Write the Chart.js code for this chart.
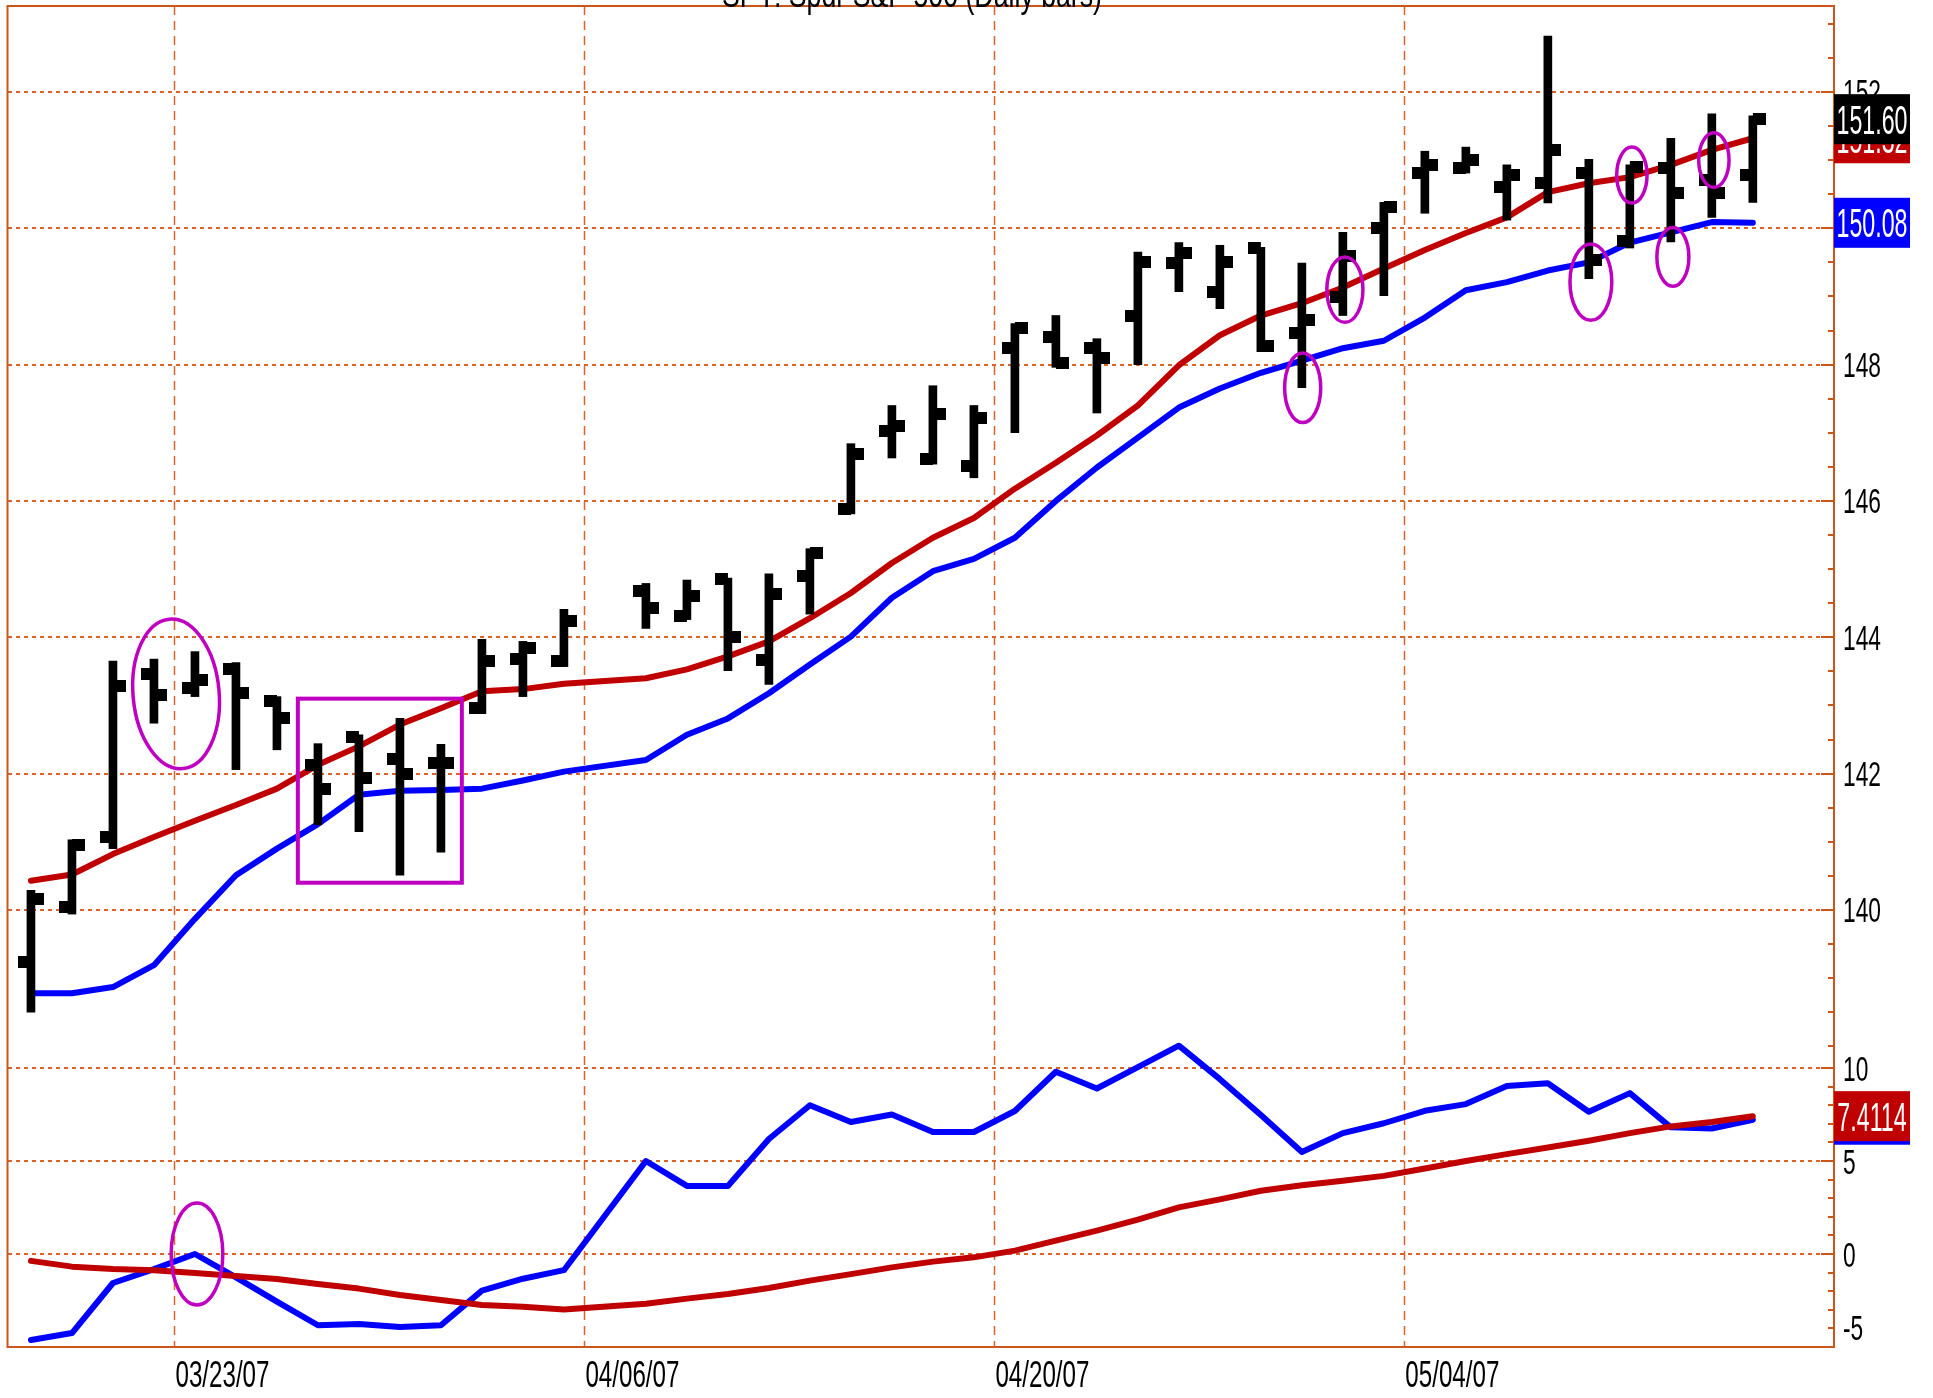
<!DOCTYPE html>
<html><head><meta charset="utf-8">
<script src="https://cdn.jsdelivr.net/npm/chart.js@4.4.1/dist/chart.umd.min.js"></script>
<style>html,body{margin:0;padding:0;background:#fff;overflow:hidden}</style>
</head><body>
<canvas id="c" width="1933" height="1398" style="width:1933px;height:1398px;display:block"></canvas>
<script>
// ---------- DATA ----------
const title = 'SPY: Spdr S&P 500 (Daily bars)';
const dates = ['03/19/07','03/20/07','03/21/07','03/22/07','03/23/07','03/26/07','03/27/07','03/28/07','03/29/07','03/30/07',
  '04/02/07','04/03/07','04/04/07','04/05/07','04/06/07','04/09/07','04/10/07','04/11/07','04/12/07','04/13/07',
  '04/16/07','04/17/07','04/18/07','04/19/07','04/20/07','04/23/07','04/24/07','04/25/07','04/26/07','04/27/07',
  '04/30/07','05/01/07','05/02/07','05/03/07','05/04/07','05/07/07','05/08/07','05/09/07','05/10/07','05/11/07',
  '05/14/07','05/15/07','05/16/07'];
const dateTickLabels = ['03/23/07','04/06/07','04/20/07','05/04/07'];
const priceTickLabels = [140,142,144,146,148,150,152];
const oscTickLabels = [-5,0,5,10];

const opens  = [139.24,140.04,141.07,143.46,143.26,143.54,143.06,142.13,142.54,142.22,142.15,142.96,143.68,143.65,null,
  144.68,144.31,144.85,143.66,144.90,145.88,147.03,146.62,146.51,148.24,148.40,148.24,148.72,149.49,149.07,149.71,
  148.46,148.99,150.01,150.81,150.88,150.60,150.66,150.81,149.82,150.88,150.71,150.78];
const highs  = [140.29,141.03,143.65,143.68,143.79,143.63,143.13,142.44,142.57,142.81,142.43,143.97,143.94,144.41,null,
  144.79,144.84,144.87,144.93,145.30,146.84,147.40,147.69,147.40,148.60,148.72,148.38,149.65,149.79,149.75,149.72,
  149.49,149.94,150.38,151.13,151.19,150.93,152.82,151.01,150.93,151.32,151.68,151.65];
const lows   = [138.50,139.94,140.90,142.74,143.13,142.06,142.35,141.25,141.15,140.51,140.85,142.88,143.13,143.57,null,
  144.13,144.26,143.51,143.31,144.34,145.81,146.63,146.54,146.34,147.00,147.96,147.29,148.00,149.07,148.82,148.19,
  147.66,148.72,149.01,150.22,150.81,150.12,150.37,149.26,149.71,149.80,150.16,150.38];
const closes = [140.16,140.96,143.28,143.16,143.37,143.18,142.82,141.78,141.93,141.99,142.15,143.65,143.84,144.24,null,
  144.43,144.60,144.01,144.63,145.23,146.69,147.10,147.28,147.21,148.54,148.03,148.10,149.50,149.63,149.50,148.28,
  148.66,149.60,150.31,150.93,151.00,150.78,151.15,149.53,150.90,150.51,150.51,151.60];
const maRed  = [140.43,140.52,140.82,141.07,141.31,141.54,141.78,142.13,142.40,142.72,142.96,143.21,143.24,143.32,null,
  143.40,143.53,143.72,143.94,144.28,144.65,145.09,145.46,145.75,146.18,146.56,146.96,147.40,147.99,148.43,148.72,
  148.90,149.13,149.41,149.68,149.93,150.16,150.53,150.66,150.75,150.93,151.15,151.32];
const maBlue = [138.78,138.78,138.87,139.19,139.87,140.51,140.90,141.26,141.69,141.75,141.76,141.78,141.90,142.03,null,
  142.20,142.57,142.81,143.18,143.60,144.01,144.58,144.97,145.15,145.46,146.00,146.49,146.93,147.37,147.65,147.88,
  148.06,148.24,148.35,148.69,149.09,149.21,149.38,149.50,149.79,149.94,150.09,150.08];
const oscBlue = [-4.62,-4.25,-1.56,-0.81,0.00,-1.26,-2.56,-3.83,-3.76,-3.92,-3.83,-1.97,-1.33,-0.87,null,
  5.00,3.66,3.66,6.18,8.00,7.10,7.50,6.56,6.56,7.69,9.80,8.90,10.05,11.20,9.40,7.47,
  5.48,6.50,7.03,7.70,8.06,9.03,9.18,7.65,8.65,6.81,6.75,7.22];
const oscRed = [-0.37,-0.68,-0.81,-0.87,-1.02,-1.18,-1.34,-1.61,-1.86,-2.20,-2.47,-2.74,-2.84,-2.99,null,
  -2.68,-2.40,-2.15,-1.83,-1.43,-1.08,-0.72,-0.41,-0.18,0.18,0.72,1.26,1.85,2.51,2.94,3.40,
  3.70,3.94,4.20,4.60,5.00,5.37,5.73,6.09,6.50,6.86,7.10,7.4114];

// hand-drawn annotations (data units: x = bar index, y = value on given axis)
const annEllipses = [
  {x:3.54, y:143.17, rx:1.05, ry:1.10, rot:-0.09, axis:'y'},
  {x:4.05, y:0.00, rx:0.63, ry:2.74, rot:0, axis:'y2'},
  {x:31.02, y:147.66, rx:0.44, ry:0.51, rot:0, axis:'y'},
  {x:32.05, y:149.10, rx:0.44, ry:0.48, rot:0, axis:'y'},
  {x:38.05, y:149.21, rx:0.51, ry:0.56, rot:0, axis:'y'},
  {x:39.05, y:150.78, rx:0.37, ry:0.41, rot:0, axis:'y'},
  {x:40.05, y:149.58, rx:0.39, ry:0.43, rot:0, axis:'y'},
  {x:41.05, y:151.00, rx:0.37, ry:0.40, rot:0, axis:'y'}
];
const annRects = [{x0:6.51, x1:10.51, y0:143.10, y1:140.40, axis:'y'}];

// ---------- STYLE ----------
const GRID = '#D8642A', AXIS = '#CC5519', MAG = '#C000C0';
const RED = '#C00000', BLUE = '#0000FF';
const FONT = '"Liberation Sans", Arial, sans-serif';

function tickImg(side){
  const c = document.createElement('canvas'); c.width = 26; c.height = 12;
  const g = c.getContext('2d'); g.fillStyle = '#000';
  if (side === 'left') g.fillRect(0,0,13,12); else g.fillRect(13,0,13,12);
  return c;
}
const pts = arr => arr.map((v,i) => v == null ? null : {x:i, y:v}).filter(p => p);
const hl = highs.map((h,i) => h == null ? null : {x:i, y:[lows[i], h]}).filter(p => p);

function squText(ctx, text, x, y, size, targetW, refText, align, color){
  ctx.save();
  ctx.font = size + 'px ' + FONT;
  const sx = targetW / ctx.measureText(refText).width;
  const w = ctx.measureText(text).width * sx;
  const left = align === 'left' ? x : align === 'center' ? x - w/2 : x - w;
  ctx.translate(left, y); ctx.scale(sx, 1);
  ctx.fillStyle = color; ctx.textAlign = 'left'; ctx.textBaseline = 'alphabetic';
  ctx.fillText(text, 0, 0);
  ctx.restore();
}

const deco = {
  id: 'deco',
  beforeDatasetsDraw(chart){
    const {ctx, chartArea:a, scales:{x, y, y2}} = chart;
    ctx.save();
    ctx.strokeStyle = GRID; ctx.lineWidth = 2; ctx.setLineDash([4,4]);
    const hLines = priceTickLabels.map(v => y.getPixelForValue(v)).concat(oscTickLabels.map(v => y2.getPixelForValue(v)));
    hLines.forEach(py => { const yy = Math.round(py); ctx.beginPath(); ctx.moveTo(a.left, yy); ctx.lineTo(a.right - 12, yy); ctx.stroke(); });
    ctx.lineWidth = 1.5; ctx.setLineDash([9,6]);
    dateTickLabels.forEach(d => {
      const px = Math.round(x.getPixelForValue(dates.indexOf(d) - 0.5)) + 0.5;
      ctx.beginPath(); ctx.moveTo(px, a.top); ctx.lineTo(px, a.bottom); ctx.stroke();
    });
    ctx.restore();
  },
  afterDatasetsDraw(chart){
    const {ctx, chartArea:a, scales} = chart;
    const {x, y, y2} = scales;
    ctx.save();
    // annotations
    ctx.strokeStyle = MAG; ctx.lineWidth = 3.5; ctx.setLineDash([]);
    annEllipses.forEach(e => {
      const sc = scales[e.axis];
      const cx = x.getPixelForValue(e.x), cy = sc.getPixelForValue(e.y);
      const rx = Math.abs(x.getPixelForValue(e.x + e.rx) - cx), ry = Math.abs(sc.getPixelForValue(e.y + e.ry) - cy);
      ctx.beginPath(); ctx.ellipse(cx, cy, rx, ry, e.rot, 0, Math.PI*2); ctx.stroke();
    });
    ctx.lineWidth = 4;
    annRects.forEach(r => {
      const sc = scales[r.axis];
      const x0 = x.getPixelForValue(r.x0), x1 = x.getPixelForValue(r.x1);
      const y0 = sc.getPixelForValue(r.y0), y1 = sc.getPixelForValue(r.y1);
      ctx.strokeRect(x0, y0, x1 - x0, y1 - y0);
    });
    // border
    ctx.strokeStyle = AXIS; ctx.lineWidth = 2;
    ctx.strokeRect(a.left - 0.5, a.top, a.right - a.left + 0.5, a.bottom - a.top);
    // right axis ticks
    ctx.lineWidth = 2;
    for (let v = 138; v <= 153.01; v += 0.5) {
      const py = Math.round(y.getPixelForValue(v));
      const major = priceTickLabels.includes(v);
      ctx.beginPath(); ctx.moveTo(a.right - (major ? 13 : 6), py); ctx.lineTo(a.right, py); ctx.stroke();
    }
    for (let v = -4; v <= 10; v += 1) {
      const py = Math.round(y2.getPixelForValue(v));
      const major = oscTickLabels.includes(v);
      ctx.beginPath(); ctx.moveTo(a.right - (major ? 13 : 6), py); ctx.lineTo(a.right, py); ctx.stroke();
    }
    // tick labels
    priceTickLabels.forEach(v => squText(ctx, String(v), a.right + 9, y.getPixelForValue(v) + 12.5, 35, 38, '148', 'left', '#000'));
    oscTickLabels.forEach(v => {
      let py = y2.getPixelForValue(v);
      if (py > a.bottom - 18) py = a.bottom - 20;
      squText(ctx, String(v), a.right + 9, py + 12.5, 35, 25.3, '10', 'left', '#000');
    });
    dateTickLabels.forEach(d => {
      const px = x.getPixelForValue(dates.indexOf(d) - 0.5);
      squText(ctx, d, px + 1, a.bottom + 40, 36, 94, '03/23/07', 'left', '#000');
    });
    // last-value boxes
    const last = arr => arr[arr.length - 1];
    const box = (sc, v, bg, txt) => {
      const py = sc.getPixelForValue(v);
      ctx.fillStyle = bg; ctx.fillRect(a.right, py - 25, 76, 50);
      squText(ctx, txt, a.right + 38, py + 14.5, 40, 71, '151.60', 'center', '#fff');
    };
    box(y, last(maRed), RED, last(maRed).toFixed(2));
    box(y, last(closes), '#000', last(closes).toFixed(2));
    box(y, last(maBlue), BLUE, last(maBlue).toFixed(2));
    box(y2, last(oscBlue), BLUE, last(oscBlue).toFixed(4));
    box(y2, last(oscRed), RED, last(oscRed).toFixed(4));
    // title (cut at top, sits on the border line)
    squText(ctx, title, 912, 7, 36, 380, title, 'center', '#000');
    ctx.restore();
  }
};

const lineDs = (label, data, color, axis) => ({type:'line', label, data, yAxisID:axis, borderColor:color,
  borderWidth:6, pointRadius:0, tension:0, borderJoinStyle:'round', borderCapStyle:'round', fill:false});

new Chart(document.getElementById('c'), {
  type: 'bar',
  data: { datasets: [
    {type:'line', label:'Open', data:pts(opens), showLine:false, pointStyle:tickImg('left'), pointRadius:5, yAxisID:'y'},
    {type:'line', label:'Close', data:pts(closes), showLine:false, pointStyle:tickImg('right'), pointRadius:5, yAxisID:'y'},
    {type:'bar', label:'High-Low', data:hl, backgroundColor:'#000', borderWidth:0, barThickness:8, yAxisID:'y'},
    lineDs('MA red', pts(maRed), RED, 'y'),
    lineDs('MA blue', pts(maBlue), BLUE, 'y'),
    lineDs('Osc red', pts(oscRed), RED, 'y2'),
    lineDs('Osc blue', pts(oscBlue), BLUE, 'y2')
  ]},
  options: {
    responsive:false, animation:false, events:[],
    layout:{padding:{left:8, top:6, right:99, bottom:51}},
    plugins:{legend:{display:false}, tooltip:{enabled:false}},
    scales:{
      x:{type:'linear', min:-0.56, max:43.98, offset:false, display:false, grid:{offset:false}},
      y:{type:'linear', min:133.59, max:153.26, display:false},
      y2:{type:'linear', min:-5, max:67.1, display:false}
    }
  },
  plugins:[deco]
});
</script>
</body></html>
